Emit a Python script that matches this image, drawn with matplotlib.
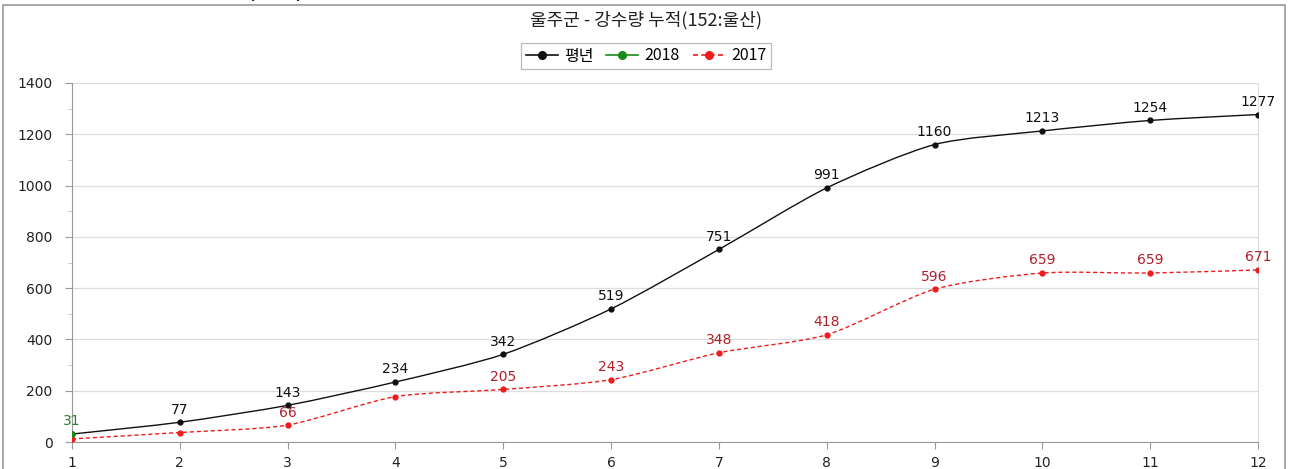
import numpy as np
import matplotlib
matplotlib.use("Agg")
import matplotlib.pyplot as plt
from matplotlib.path import Path
from matplotlib.patches import PathPatch, Rectangle
from matplotlib.lines import Line2D

plt.rcParams["font.family"] = ["Noto Sans CJK KR", "DejaVu Sans"]

# ── 데이터 ──
months = [1, 2, 3, 4, 5, 6, 7, 8, 9, 10, 11, 12]
normal = [31, 77, 143, 234, 342, 519, 751, 991, 1160, 1213, 1254, 1277]
y2017 = [12, 37, 66, 177, 205, 243, 348, 418, 596, 659, 659, 671]
months_2018 = [1]
y2018 = [31]
# 라벨 표시 여부(원본 차트에서 겹쳐서 숨겨진 라벨 제외)
normal_lbl = [False] + [True] * 11
y2017_lbl = [False, False, True, False, True, True, True, True, True, True, True, True]

TITLE = "울주군 - 강수량 누적(152:울산)"
C_BLACK, C_GREEN, C_RED = "#111111", "#1a8a1a", "#ee1c1c"
C_RED_TXT, C_GREEN_TXT = "#b0202a", "#2e7d32"


def smooth_path(xs, ys, k=1 / 8):
    """Catmull-Rom -> 3차 베지어 경로 (차트의 부드러운 선 재현)"""
    xs, ys = np.asarray(xs, float), np.asarray(ys, float)
    verts = [(xs[0], ys[0])]
    codes = [Path.MOVETO]
    n = len(xs)
    for i in range(n - 1):
        i0, i3 = max(i - 1, 0), min(i + 2, n - 1)
        c1 = (xs[i] + (xs[i + 1] - xs[i0]) * k, ys[i] + (ys[i + 1] - ys[i0]) * k)
        c2 = (xs[i + 1] - (xs[i3] - xs[i]) * k, ys[i + 1] - (ys[i3] - ys[i]) * k)
        verts += [c1, c2, (xs[i + 1], ys[i + 1])]
        codes += [Path.CURVE4] * 3
    return Path(verts, codes)


fig = plt.figure(figsize=(12.89, 4.69), dpi=100)
ax = fig.add_axes([72 / 1289, 1 - 442 / 469, (1258 - 72) / 1289, (442 - 83) / 469])

# 외곽 테두리
fig.patches.append(Rectangle((3 / 1289, -0.05), (1285 - 3) / 1289, 1.05 - 5 / 469,
                             transform=fig.transFigure, fill=False,
                             edgecolor="#9a9a9a", lw=1.2, zorder=0))
# 상단 잘린 제목 조각 (원본에서도 위쪽이 잘려 있음)
fig.text(90 / 1289, 1 + 3 / 469, "울주군 누적강수량(mm)", fontsize=15, fontweight="bold",
         color="black", va="baseline", ha="left")

ax.add_patch(PathPatch(smooth_path(months, normal), fill=False, edgecolor=C_BLACK, lw=1.0, zorder=3))
ax.add_patch(PathPatch(smooth_path(months, y2017), fill=False, edgecolor=C_RED, lw=1.0,
                       linestyle=(0, (3, 2)), zorder=3))
ax.plot(months, normal, ls="none", marker="o", ms=3.5, color=C_BLACK, zorder=4)
ax.plot(months, y2017, ls="none", marker="o", ms=3.5, color=C_RED, zorder=4)
ax.plot(months_2018, y2018, ls="none", marker="o", ms=3.5, color=C_GREEN, zorder=5)

lbl_kw = dict(xytext=(0, 4), textcoords="offset points", ha="center", va="bottom",
              fontsize=10, family="DejaVu Sans")
for x, v, show in zip(months, normal, normal_lbl):
    if show:
        ax.annotate(f"{v}", (x, v), color=C_BLACK, **lbl_kw)
for x, v, show in zip(months, y2017, y2017_lbl):
    if show:
        ax.annotate(f"{v}", (x, v), color=C_RED_TXT, **lbl_kw)
for x, v in zip(months_2018, y2018):
    ax.annotate(f"{v}", (x, v), color=C_GREEN_TXT, **lbl_kw)

ax.set_xlim(1, 12)
ax.set_ylim(0, 1400)
ax.set_xticks(months)
ax.set_yticks(range(0, 1401, 200))
ax.set_yticks(range(100, 1400, 200), minor=True)
ax.grid(axis="y", which="major", color="#dddddd", lw=0.9)
ax.set_axisbelow(True)
ax.spines["top"].set_visible(False)
ax.spines["right"].set_color("#dddddd")
ax.spines["left"].set_color("#999999")
ax.spines["bottom"].set_color("#999999")
ax.tick_params(axis="both", which="major", length=5, color="#999999", labelsize=10,
               labelcolor="#222222")
ax.tick_params(axis="y", which="major", pad=9)
ax.tick_params(axis="x", which="major", pad=5)
ax.tick_params(axis="y", which="minor", length=3, color="#bbbbbb")
for lab in ax.get_xticklabels() + ax.get_yticklabels():
    lab.set_family("DejaVu Sans")

fig.text(646 / 1289, 1 - 20 / 469, TITLE, ha="center", va="center", fontsize=13, color="#222222")

handles = [
    Line2D([], [], color=C_BLACK, marker="o", ms=5.5, lw=1.2),
    Line2D([], [], color=C_GREEN, marker="o", ms=5.5, lw=1.2),
    Line2D([], [], color=C_RED, marker="o", ms=5.5, lw=1.2, ls=(0, (3, 2))),
]
leg = fig.legend(handles, ["평년", "2018", "2017"], loc="center", ncol=3,
                 bbox_to_anchor=(646 / 1289, 1 - 56 / 469), fontsize=11.5, frameon=True,
                 fancybox=False, edgecolor="#aaaaaa", handlelength=2.0, handletextpad=0.4,
                 columnspacing=0.8, borderpad=0.3)
leg.get_frame().set_linewidth(0.9)

fig.savefig("out.png", dpi=100)
